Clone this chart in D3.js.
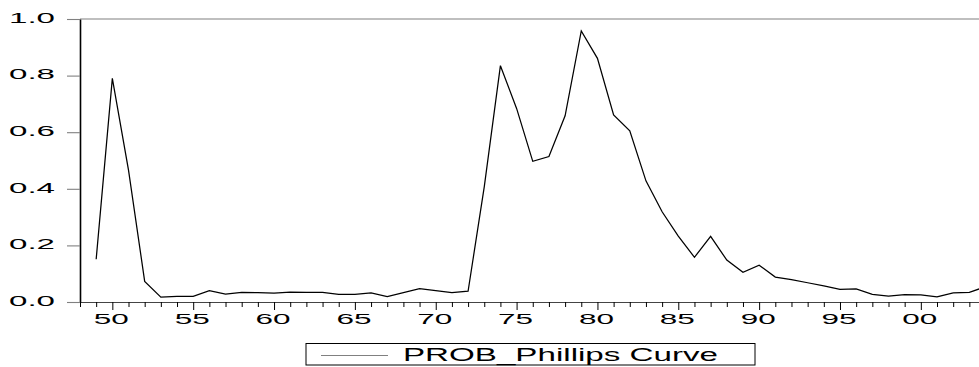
<!DOCTYPE html>
<html>
<head>
<meta charset="utf-8">
<script src="https://cdn.jsdelivr.net/npm/d3@7/dist/d3.min.js"></script>
<style>
  html, body { margin: 0; padding: 0; background: #fff; }
  svg { display: block; }
  text { font-family: "Liberation Sans", Arial, sans-serif; fill: #000; }
</style>
</head>
<body>
<svg id="chart" width="979" height="367"></svg>
<script>
// ---- data (years 1949..2004, written as 49..104) ----
const years = d3.range(49, 105);
const prob = [
  0.151, 0.790, 0.466, 0.073, 0.017, 0.020, 0.020, 0.040, 0.028, 0.034,
  0.033, 0.031, 0.035, 0.034, 0.034, 0.027, 0.027, 0.032, 0.019, 0.033,
  0.047, 0.040, 0.033, 0.038, 0.407, 0.835, 0.684, 0.497, 0.514, 0.658,
  0.958, 0.861, 0.661, 0.605, 0.428, 0.319, 0.233, 0.158, 0.232, 0.148,
  0.105, 0.130, 0.088, 0.079, 0.068, 0.057, 0.045, 0.046, 0.027, 0.021,
  0.026, 0.025, 0.018, 0.032, 0.034, 0.054
];
const seriesName = "PROB_Phillips Curve";
const yTicks = [0.0, 0.2, 0.4, 0.6, 0.8, 1.0];
const xMajorYears = [50, 55, 60, 65, 70, 75, 80, 85, 90, 95, 100];
const xTickLabels = ["50", "55", "60", "65", "70", "75", "80", "85", "90", "95", "00"];

(function () {
  // ---- layout ----
  const svg = d3.select("#chart");
  const mLeft = 80, mTop = 19, mBottom = 302;
  const pxPerYear = 16.17;
  const x = d3.scaleLinear().domain([48, 104]).range([mLeft, mLeft + 56 * pxPerYear]);
  const y = d3.scaleLinear().domain([0, 1]).range([mBottom, mTop]);

  // top frame line
  svg.append("line")
    .attr("x1", mLeft).attr("x2", 979)
    .attr("y1", mTop).attr("y2", mTop)
    .attr("stroke", "#808080").attr("stroke-width", 1.2);

  // x axis
  const labelOf = new Map(xMajorYears.map((d, i) => [d, xTickLabels[i]]));
  const xAxis = d3.axisBottom(x)
    .tickValues(d3.range(48, 105))
    .tickSizeOuter(0)
    .tickSizeInner(5)
    .tickFormat(d => labelOf.has(d) ? labelOf.get(d) : "");
  const gx = svg.append("g").attr("transform", `translate(0,${mBottom})`).call(xAxis);
  gx.select(".domain").attr("stroke", "#444").attr("stroke-width", 1.2)
    .attr("d", `M${mLeft},0.5H979`);
  gx.selectAll(".tick line")
    .attr("stroke", "#000")
    .attr("y2", d => labelOf.has(d) ? 8 : 5);
  gx.selectAll(".tick text")
    .attr("font-size", 15)
    .attr("y", 11)
    .attr("x", -1.5)
    .attr("dy", "0.71em")
    .attr("textLength", d => labelOf.has(d) ? 35 : null)
    .attr("lengthAdjust", "spacingAndGlyphs");

  // y axis
  const yAxis = d3.axisLeft(y)
    .tickValues(yTicks)
    .tickSizeOuter(0)
    .tickSizeInner(13)
    .tickPadding(12)
    .tickFormat(d3.format(".1f"));
  const gy = svg.append("g").attr("transform", `translate(${mLeft},0)`).call(yAxis);
  gy.select(".domain").attr("stroke", "#000").attr("stroke-width", 1.6);
  gy.selectAll(".tick line").attr("stroke", "#808080").attr("stroke-width", 1.1);
  gy.selectAll(".tick text")
    .attr("font-size", 14)
    .attr("dy", "0.24em")
    .attr("textLength", 46)
    .attr("lengthAdjust", "spacingAndGlyphs");

  // series line
  const line = d3.line().x((d, i) => x(years[i])).y(d => y(d));
  svg.append("path")
    .datum(prob)
    .attr("d", line)
    .attr("fill", "none")
    .attr("stroke", "#000")
    .attr("stroke-width", 1.25)
    .attr("stroke-linejoin", "miter");

  // legend
  const lg = svg.append("g");
  lg.append("rect")
    .attr("x", 306).attr("y", 343.5)
    .attr("width", 449).attr("height", 21.5)
    .attr("fill", "#fff").attr("stroke", "#000").attr("stroke-width", 1);
  lg.append("line")
    .attr("x1", 321).attr("x2", 388)
    .attr("y1", 355.5).attr("y2", 355.5)
    .attr("stroke", "#808080").attr("stroke-width", 1.2);
  lg.append("text")
    .attr("x", 403).attr("y", 361)
    .attr("font-size", 17.5)
    .attr("textLength", 315)
    .attr("lengthAdjust", "spacingAndGlyphs")
    .text(seriesName);
})();
</script>
</body>
</html>
